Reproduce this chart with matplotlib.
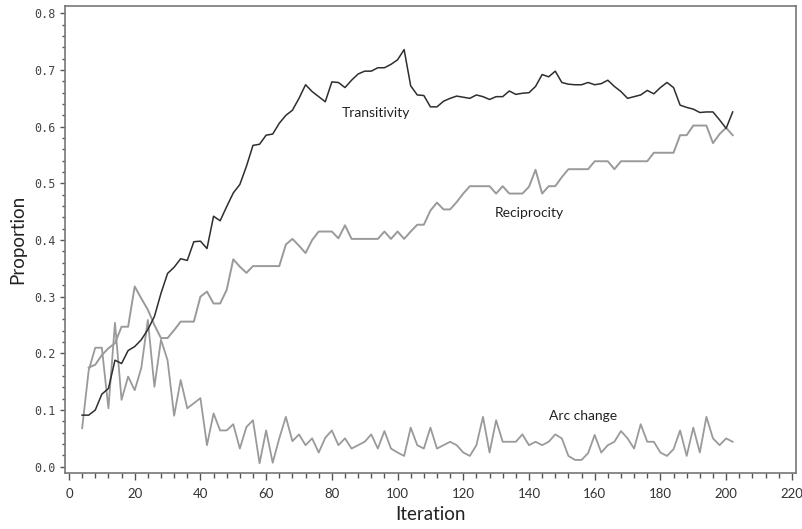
import numpy as np
import matplotlib.pyplot as plt
from matplotlib.ticker import MultipleLocator

# iterations sampled every 2 steps
iteration = np.arange(4, 203, 2)

transitivity = [
    0.091, 0.091, 0.100, 0.128, 0.138, 0.188, 0.182, 0.205, 0.212, 0.224,
    0.242, 0.265, 0.306, 0.341, 0.352, 0.367, 0.364, 0.397, 0.398, 0.385,
    0.442, 0.434, 0.459, 0.483, 0.498, 0.530, 0.567, 0.569, 0.585, 0.587,
    0.606, 0.620, 0.629, 0.650, 0.674, 0.662, 0.653, 0.644, 0.679, 0.678,
    0.669, 0.682, 0.693, 0.698, 0.698, 0.704, 0.704, 0.710, 0.718, 0.736,
    0.672, 0.656, 0.655, 0.635, 0.635, 0.645, 0.650, 0.654, 0.652, 0.650,
    0.656, 0.653, 0.648, 0.653, 0.653, 0.663, 0.657, 0.659, 0.660, 0.671,
    0.692, 0.688, 0.698, 0.678, 0.675, 0.674, 0.674, 0.678, 0.674, 0.676,
    0.682, 0.671, 0.662, 0.650, 0.653, 0.656, 0.664, 0.658, 0.669, 0.678,
    0.669, 0.638, 0.634, 0.631, 0.625, 0.626, 0.626, 0.612, 0.597, 0.626,
]

# reciprocity has no value at iteration 4
reciprocity = [
    np.nan, 0.175, 0.180, 0.197, 0.209, 0.218, 0.247, 0.247, 0.318, 0.297,
    0.277, 0.250, 0.227, 0.227, 0.241, 0.256, 0.256, 0.256, 0.300, 0.309,
    0.288, 0.288, 0.312, 0.366, 0.353, 0.342, 0.354, 0.354, 0.354, 0.354,
    0.354, 0.392, 0.402, 0.390, 0.377, 0.400, 0.415, 0.415, 0.415, 0.403,
    0.426, 0.402, 0.402, 0.402, 0.402, 0.402, 0.415, 0.402, 0.415, 0.402,
    0.415, 0.427, 0.427, 0.452, 0.466, 0.454, 0.454, 0.467, 0.482, 0.495,
    0.495, 0.495, 0.495, 0.482, 0.495, 0.482, 0.482, 0.482, 0.494, 0.524,
    0.482, 0.495, 0.495, 0.511, 0.525, 0.525, 0.525, 0.525, 0.539, 0.539,
    0.539, 0.525, 0.539, 0.539, 0.539, 0.539, 0.539, 0.554, 0.554, 0.554,
    0.554, 0.585, 0.585, 0.602, 0.602, 0.602, 0.571, 0.587, 0.598, 0.585,
]

arc_change = [
    0.068, 0.170, 0.210, 0.210, 0.103, 0.254, 0.118, 0.159, 0.135, 0.174,
    0.259, 0.141, 0.224, 0.188, 0.090, 0.153, 0.103, 0.112, 0.121, 0.038,
    0.094, 0.064, 0.064, 0.075, 0.032, 0.070, 0.082, 0.006, 0.064, 0.007,
    0.050, 0.088, 0.045, 0.057, 0.038, 0.050, 0.025, 0.051, 0.064, 0.038,
    0.050, 0.032, 0.038, 0.044, 0.057, 0.032, 0.063, 0.032, 0.025, 0.019,
    0.069, 0.038, 0.032, 0.069, 0.032, 0.038, 0.044, 0.038, 0.025, 0.019,
    0.038, 0.088, 0.025, 0.082, 0.044, 0.044, 0.044, 0.057, 0.038, 0.044,
    0.038, 0.044, 0.057, 0.050, 0.019, 0.012, 0.012, 0.024, 0.056, 0.025,
    0.038, 0.044, 0.063, 0.050, 0.032, 0.075, 0.044, 0.044, 0.025, 0.019,
    0.031, 0.064, 0.019, 0.069, 0.025, 0.088, 0.050, 0.038, 0.050, 0.044,
]

fig = plt.figure(figsize=(8.03, 5.29), dpi=100)
ax = fig.add_axes([0.081, 0.1064, 0.910, 0.8823])

ax.plot(iteration, arc_change, color='#9a9a9a', lw=1.3)
ax.plot(iteration, reciprocity, color='#9a9a9a', lw=1.4)
ax.plot(iteration, transitivity, color='#2e2e2e', lw=1.1)

ax.text(93.5, 0.624, 'Transitivity', family='Lato', fontsize=10,
        ha='center', va='center', color='#222222')
ax.text(140, 0.448, 'Reciprocity', family='Lato', fontsize=10,
        ha='center', va='center', color='#222222')
ax.text(156.6, 0.090, 'Arc change', family='Lato', fontsize=10,
        ha='center', va='center', color='#222222')

ax.set_xlim(-1.2, 221.2)
ax.set_ylim(-0.0106, 0.813)

ax.xaxis.set_major_locator(MultipleLocator(20))
ax.xaxis.set_minor_locator(MultipleLocator(4))
ax.yaxis.set_major_locator(MultipleLocator(0.1))
ax.yaxis.set_minor_locator(MultipleLocator(0.02))
ax.set_yticks(np.arange(0, 0.81, 0.1))
ax.set_yticklabels([f'{v:.1f}' for v in np.arange(0, 0.81, 0.1)])

ax.tick_params(axis='x', which='major', length=5, width=1, color='#555555',
               pad=6, labelsize=9.5, labelcolor='#333333')
ax.tick_params(axis='x', which='minor', length=3.5, width=1, color='#555555')
ax.tick_params(axis='y', which='major', length=3.6, width=1, color='#555555',
               pad=3, labelsize=8.5, labelcolor='#444444')
ax.tick_params(axis='y', which='minor', length=2.2, width=1, color='#555555')
for lab in ax.get_xticklabels():
    lab.set_family('Lato')
for lab in ax.get_yticklabels():
    lab.set_family('DejaVu Sans Mono')

for side in ['left', 'right', 'top', 'bottom']:
    ax.spines[side].set_color('#777777')
    ax.spines[side].set_linewidth(1.2)

ax.set_xlabel('Iteration', family='Lato', fontsize=13.5, color='#222222', labelpad=4)
ax.set_ylabel('Proportion', family='Lato', fontsize=13.5, color='#222222', labelpad=6)

fig.savefig('out.png', dpi=100)
